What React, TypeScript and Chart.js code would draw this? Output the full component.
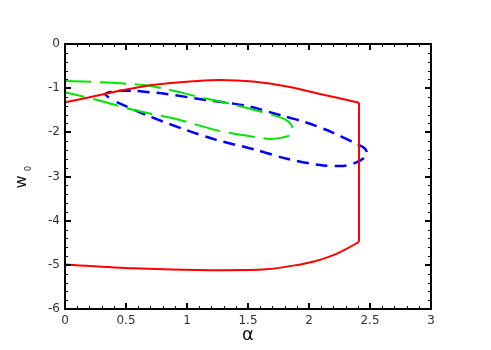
import React, { useEffect, useRef } from "react";
import { Chart, registerables } from "chart.js";

Chart.register(...registerables);

// Tick values
const xTicks = [0, 0.5, 1, 1.5, 2, 2.5, 3];
const yTicks = [-6, -5, -4, -3, -2, -1, 0];

// Red curve: upper branch, vertical segment, lower branch
const redUpperA = [0, 0.23, 0.45, 0.64, 0.85, 1.05, 1.27, 1.54, 1.82, 2.09, 2.41];
const redUpperW = [-1.32, -1.19, -1.06, -0.96, -0.89, -0.845, -0.815, -0.85, -0.96, -1.13, -1.33];
const redVertA = [2.41, 2.41];
const redVertW = [-1.33, -4.48];
const redLowerA = [2.41, 2.3, 2.2, 2.05, 1.93, 1.65, 1.19, 0.56, 0];
const redLowerW = [-4.48, -4.65, -4.78, -4.92, -4.99, -5.1, -5.12, -5.08, -4.99];

// Green curve (dashed), traced from upper-left around the tip back to lower-left
const greenA = [0, 0.3, 0.64, 0.83, 1.1, 1.35, 1.6, 1.8, 1.855, 1.865, 1.84, 1.78, 1.68, 1.57, 1.4, 1.24, 0.91, 0.557, 0.28, 0];
const greenW = [-0.84, -0.865, -0.93, -1.02, -1.2, -1.35, -1.53, -1.7, -1.83, -1.95, -2.07, -2.12, -2.15, -2.11, -2.04, -1.95, -1.7, -1.49, -1.28, -1.09];

// Blue curve (dashed), from the hook along the upper branch, around the right end, back along the lower branch
const blueA = [0.36, 0.33, 0.36, 0.45, 0.56, 0.83, 1.1, 1.38, 1.52, 1.8, 1.97, 2.19, 2.38, 2.45, 2.475, 2.45, 2.38, 2.28, 2.09, 1.82, 1.57, 1.24, 0.995, 0.667, 0.42];
const blueW = [-1.21, -1.14, -1.09, -1.06, -1.06, -1.13, -1.245, -1.35, -1.42, -1.64, -1.77, -2.0, -2.25, -2.35, -2.46, -2.58, -2.69, -2.76, -2.74, -2.6, -2.4, -2.17, -1.95, -1.61, -1.31];

const toPts = (a: number[], w: number[]) => a.map((x, i) => ({ x, y: w[i] }));

const framePlugin = {
  id: "frame",
  afterDraw(chart: any) {
    const { ctx, chartArea } = chart;
    const xs = chart.scales.x;
    const ys = chart.scales.y;
    const { left, right, top, bottom } = chartArea;
    ctx.save();
    ctx.strokeStyle = "#000";
    // inward ticks on all sides
    for (let i = 0; i <= 30; i++) {
      const v = i / 10;
      const major = i % 5 === 0;
      const len = major ? 6 : 3;
      ctx.lineWidth = major ? 2 : 1;
      const px = Math.round(xs.getPixelForValue(v)) + (major ? 0 : 0.5);
      ctx.beginPath();
      ctx.moveTo(px, bottom);
      ctx.lineTo(px, bottom - len);
      ctx.moveTo(px, top);
      ctx.lineTo(px, top + len);
      ctx.stroke();
    }
    for (let i = 0; i <= 30; i++) {
      const v = -6 + i * 0.2;
      const major = i % 5 === 0;
      const len = major ? 6 : 3;
      ctx.lineWidth = major ? 2 : 1;
      const py = Math.round(ys.getPixelForValue(v)) + (major ? 0 : 0.5);
      ctx.beginPath();
      ctx.moveTo(left, py);
      ctx.lineTo(left + len, py);
      ctx.moveTo(right, py);
      ctx.lineTo(right - len, py);
      ctx.stroke();
    }
    // frame
    ctx.lineWidth = 2;
    ctx.strokeRect(left, top, right - left, bottom - top);

    // axis titles
    ctx.fillStyle = "#111";
    ctx.textAlign = "center";
    ctx.textBaseline = "middle";
    ctx.font = "18px 'DejaVu Sans'";
    ctx.fillText("α", (left + right) / 2, 335);

    ctx.translate(21.5, 182);
    ctx.rotate(-Math.PI / 2);
    ctx.font = "16px 'DejaVu Sans'";
    ctx.fillText("w", 0, 0);
    ctx.font = "8px 'DejaVu Sans'";
    ctx.fillText("0", 13.5, 7.5);
    ctx.restore();
  },
};

export default function App() {
  const ref = useRef<HTMLCanvasElement>(null);
  useEffect(() => {
    document.body.style.margin = "0";
    const common = { showLine: true, pointRadius: 0, fill: false, tension: 0.3 };
    const chart = new Chart(ref.current!, {
      type: "scatter",
      data: {
        datasets: [
          { ...common, data: toPts(redUpperA, redUpperW), borderColor: "#ff0000", borderWidth: 2 },
          { ...common, tension: 0, data: toPts(redVertA, redVertW), borderColor: "#ff0000", borderWidth: 2 },
          { ...common, data: toPts(redLowerA, redLowerW), borderColor: "#ff0000", borderWidth: 2 },
          { ...common, data: toPts(greenA, greenW), borderColor: "#00e600", borderWidth: 2, borderDash: [26, 9] },
          { ...common, data: toPts(blueA, blueW), borderColor: "#0000ff", borderWidth: 2.5, borderDash: [12, 7] },
        ],
      },
      options: {
        animation: false,
        responsive: true,
        maintainAspectRatio: false,
        layout: { padding: { top: 44, right: 60, left: 0, bottom: 0 } },
        plugins: { legend: { display: false }, tooltip: { enabled: false } },
        scales: {
          x: {
            type: "linear",
            min: 0,
            max: 3,
            afterFit: (s: any) => { s.height = 41; },
            afterBuildTicks: (s: any) => { s.ticks = xTicks.map((v) => ({ value: v })); },
            grid: { display: false, drawTicks: false },
            border: { display: false },
            ticks: {
              padding: 5,
              color: "#333",
              font: { family: "'DejaVu Sans'", size: 12 },
              maxRotation: 0,
              callback: (v: any) => String(v),
            },
          },
          y: {
            type: "linear",
            min: -6,
            max: 0,
            afterFit: (s: any) => { s.width = 65; },
            afterBuildTicks: (s: any) => { s.ticks = yTicks.map((v) => ({ value: v })); },
            grid: { display: false, drawTicks: false },
            border: { display: false },
            ticks: {
              padding: 5,
              color: "#333",
              font: { family: "'DejaVu Sans'", size: 12 },
              callback: (v: any) => String(v),
            },
          },
        },
      },
      plugins: [framePlugin],
    });
    return () => chart.destroy();
  }, []);
  return (
    <div style={{ position: "absolute", left: 0, top: 0, width: 491, height: 350 }}>
      <canvas ref={ref} />
    </div>
  );
}
